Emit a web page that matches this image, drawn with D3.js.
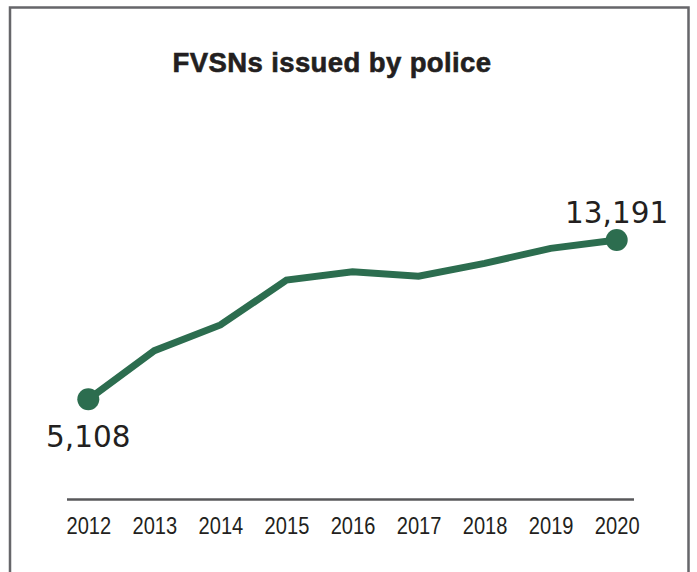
<!DOCTYPE html>
<html>
<head>
<meta charset="utf-8">
<script src="https://cdn.jsdelivr.net/npm/d3@7"></script>
<style>
  html, body { margin: 0; padding: 0; background: #fff; }
  svg { display: block; }
</style>
</head>
<body>
<svg id="chart" width="697" height="572"></svg>
<script>
// Fixed-penalty violence sanctions notices issued by police, per year
const years = [2012, 2013, 2014, 2015, 2016, 2017, 2018, 2019, 2020];
const notices = [5108, 7580, 8880, 11160, 11580, 11360, 12010, 12770, 13191];
const yearLabels = ["2012", "2013", "2014", "2015", "2016", "2017", "2018", "2019", "2020"];
const chartTitle = "FVSNs issued by police";

const W = 697, H = 572;
const svg = d3.select("#chart");
const green = "#2c6d4f";
const ink = "#231f20";

// Panel frame (open at the bottom)
svg.append("path")
  .attr("d", `M10,${H} V7.5 H688.5 V${H}`)
  .attr("fill", "none")
  .attr("stroke", "#66666a")
  .attr("stroke-width", 2.5);

svg.append("text")
  .attr("x", 332)
  .attr("y", 72)
  .attr("text-anchor", "middle")
  .attr("font-family", "'Liberation Sans', Arial, sans-serif")
  .attr("font-weight", "bold")
  .attr("font-size", 27.5)
  .attr("letter-spacing", 0.4)
  .attr("fill", ink)
  .attr("stroke", ink)
  .attr("stroke-width", 0.6)
  .text(chartTitle);

const x = d3.scaleLinear().domain([2012, 2020]).range([88.3, 616.7]);
const y = d3.scaleLinear().domain([0, 14000]).range([500, 224.1]);

// Baseline with year labels
const xAxis = d3.axisBottom(x)
  .tickValues(years)
  .tickFormat((d, i) => yearLabels[i])
  .tickSize(0)
  .tickPadding(18);

const axisG = svg.append("g")
  .attr("transform", "translate(0,499.5)")
  .call(xAxis);
axisG.select(".domain").remove();
axisG.append("line")
  .attr("x1", 67).attr("x2", 634)
  .attr("stroke", "#58585b")
  .attr("stroke-width", 2.5);
axisG.selectAll(".tick text")
  .attr("font-family", "'Liberation Sans', Arial, sans-serif")
  .attr("font-size", 23)
  .attr("textLength", 44.7)
  .attr("lengthAdjust", "spacingAndGlyphs")
  .attr("fill", ink);

const line = d3.line()
  .x((d, i) => x(years[i]))
  .y(d => y(d));

svg.append("path")
  .datum(notices)
  .attr("d", line)
  .attr("fill", "none")
  .attr("stroke", green)
  .attr("stroke-width", 7)
  .attr("stroke-linejoin", "miter");

// End-point markers and their value labels
const ends = [0, notices.length - 1];
svg.selectAll("circle.end")
  .data(ends)
  .join("circle")
  .attr("class", "end")
  .attr("cx", i => x(years[i]))
  .attr("cy", i => y(notices[i]))
  .attr("r", 11)
  .attr("fill", green);

const fmt = d3.format(",");
svg.selectAll("text.val")
  .data(ends)
  .join("text")
  .attr("class", "val")
  .attr("x", i => x(years[i]))
  .attr("y", (i, k) => y(notices[i]) + (k === 0 ? 48 : -17))
  .attr("text-anchor", "middle")
  .attr("font-family", "'DejaVu Sans', sans-serif")
  .attr("font-size", 29.5)
  .attr("fill", ink)
  .text(i => fmt(notices[i]));
</script>
</body>
</html>
